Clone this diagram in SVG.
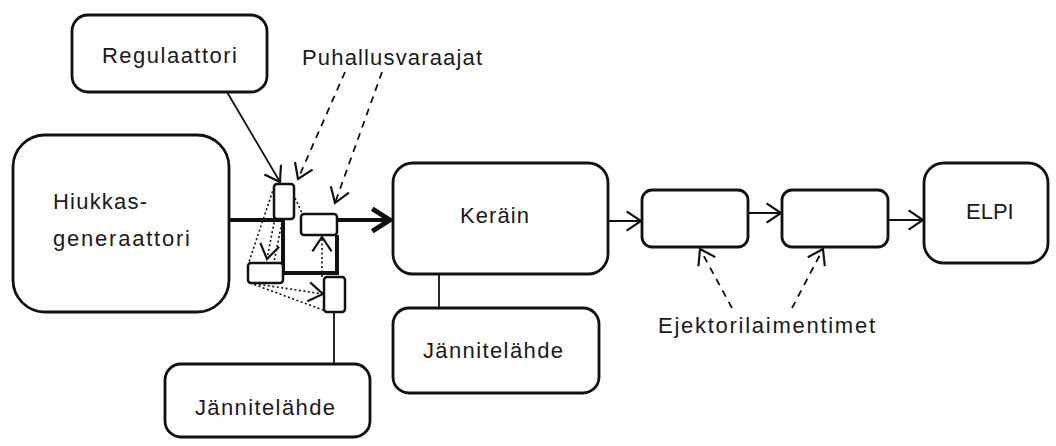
<svg xmlns="http://www.w3.org/2000/svg" width="1056" height="446" viewBox="0 0 1056 446">
<style>
.box{fill:#fff;stroke:#111;stroke-width:2.8}
.sm{fill:#fff;stroke:#111;stroke-width:2.5}
.lbl{font-family:"Liberation Sans",Arial,sans-serif;font-size:22px;fill:#1a1a1a}
.c{stroke:#111;stroke-width:1.8;fill:none}
.thick{stroke:#111;stroke-width:4;fill:none}
.dash{stroke:#111;stroke-width:1.8;fill:none;stroke-dasharray:7 6}
.dot{stroke:#111;stroke-width:1.6;fill:none;stroke-dasharray:2 2.5}
</style>
<defs>
<marker id="ah" markerUnits="userSpaceOnUse" markerWidth="24" markerHeight="24" viewBox="-14 -10 16 20" refX="0" refY="0" orient="auto">
<path d="M-12,-8 L0,0 L-12,8" fill="none" stroke="#111" stroke-width="1.8"/>
</marker>
<marker id="ahb" markerUnits="userSpaceOnUse" markerWidth="30" markerHeight="30" viewBox="-18 -12 20 24" refX="0" refY="0" orient="auto">
<path d="M-15,-9 L-1,0 L-15,9" fill="none" stroke="#111" stroke-width="4"/>
</marker>
</defs>

<g id="connectors">
<polyline class="thick" points="229,220 283,220 283,273 337,273 337,235"/>
<line class="thick" x1="337" y1="220" x2="391" y2="220" marker-end="url(#ahb)"/>
<line class="c" x1="227" y1="92" x2="280" y2="182" marker-end="url(#ah)"/>
<line class="dash" x1="345" y1="72" x2="298" y2="179" marker-end="url(#ah)"/>
<line class="dash" x1="382" y1="72" x2="335" y2="203" marker-end="url(#ah)"/>
<line class="dot" x1="274" y1="187" x2="249" y2="262"/>
<line class="dot" x1="281" y1="187" x2="267" y2="259" marker-end="url(#ah)"/>
<line class="dot" x1="288" y1="192" x2="274" y2="262"/>
<line class="dot" x1="295" y1="198" x2="302" y2="213"/>
<line class="dot" x1="322" y1="277" x2="322" y2="237" marker-end="url(#ah)"/>
<line class="dot" x1="250" y1="283" x2="323" y2="294" marker-end="url(#ah)"/>
<line class="dot" x1="250" y1="283" x2="323" y2="310"/>
<line class="c" x1="334" y1="312" x2="334" y2="364"/>
<line class="c" x1="439" y1="274" x2="439" y2="308"/>
<line class="c" x1="608" y1="221" x2="641" y2="221" marker-end="url(#ah)"/>
<line class="c" x1="748" y1="213" x2="781" y2="213" marker-end="url(#ah)"/>
<line class="c" x1="888" y1="220" x2="923" y2="220" marker-end="url(#ah)"/>
<line class="dash" x1="732" y1="308" x2="700" y2="249" marker-end="url(#ah)"/>
<line class="dash" x1="792" y1="308" x2="823" y2="249" marker-end="url(#ah)"/>
</g>

<g id="regulaattori">
<rect class="box" x="72" y="15" width="195" height="77" rx="16"/>
<text class="lbl" x="102" y="63" textLength="135" lengthAdjust="spacing">Regulaattori</text>
</g>

<g id="puhallusvaraajat">
<text class="lbl" x="302" y="65" textLength="180" lengthAdjust="spacing">Puhallusvaraajat</text>
</g>

<g id="hiukkasgeneraattori">
<rect class="box" x="13" y="135" width="216" height="177" rx="32"/>
<text class="lbl" x="53" y="209" textLength="94" lengthAdjust="spacing">Hiukkas-</text>
<text class="lbl" x="53" y="246" textLength="137" lengthAdjust="spacing">generaattori</text>
</g>

<g id="valve-a"><rect class="sm" x="274" y="184" width="20" height="35" rx="3"/></g>
<g id="valve-c"><rect class="sm" x="301" y="214" width="36" height="21" rx="3"/></g>
<g id="valve-b"><rect class="sm" x="248" y="263" width="35" height="20" rx="3"/></g>
<g id="valve-d"><rect class="sm" x="324" y="277" width="21" height="35" rx="3"/></g>

<g id="jannitelahde1">
<rect class="box" x="165" y="364" width="205" height="73" rx="16"/>
<text class="lbl" x="195" y="415" textLength="140" lengthAdjust="spacing">Jännitelähde</text>
</g>

<g id="kerain">
<rect class="box" x="393" y="163" width="215" height="111" rx="20"/>
<text class="lbl" x="460" y="223" textLength="69" lengthAdjust="spacing">Keräin</text>
</g>

<g id="jannitelahde2">
<rect class="box" x="393" y="308" width="206" height="85" rx="16"/>
<text class="lbl" x="423" y="358" textLength="140" lengthAdjust="spacing">Jännitelähde</text>
</g>

<g id="ejektori1"><rect class="box" x="642" y="190" width="106" height="57" rx="10"/></g>
<g id="ejektori2"><rect class="box" x="782" y="190" width="106" height="57" rx="10"/></g>

<g id="ejektorilaimentimet">
<text class="lbl" x="658" y="333" textLength="217" lengthAdjust="spacing">Ejektorilaimentimet</text>
</g>

<g id="elpi">
<rect class="box" x="924" y="163" width="124" height="100" rx="20"/>
<text class="lbl" x="966" y="219">ELPI</text>
</g>
</svg>
